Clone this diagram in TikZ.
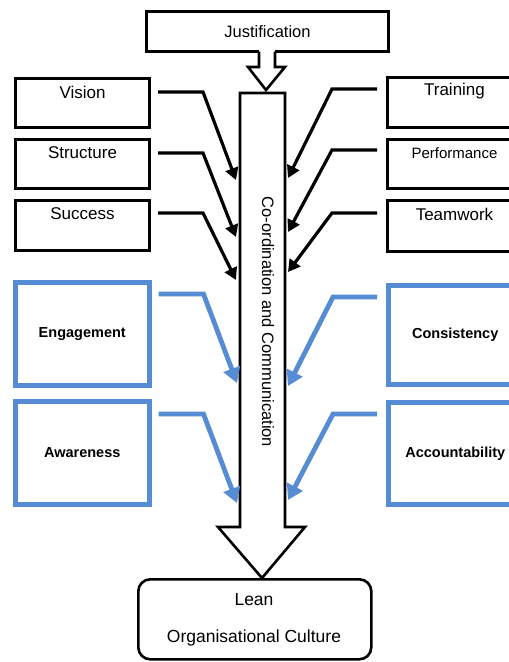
\documentclass[tikz,border=0pt]{standalone}
\usepackage{fontspec}
\setmainfont{Liberation Sans}
\usetikzlibrary{arrows.meta,calc}
\definecolor{boxblue}{RGB}{86,140,211}
\begin{document}
\begin{tikzpicture}[x=1pt,y=-1pt,
  line join=miter,
  plainbox/.style={draw=black,line width=3pt,anchor=north west,inner sep=0pt,
    minimum width=134pt,minimum height=49pt},
  bluebox/.style={draw=boxblue,line width=4.5pt,anchor=north west,inner sep=0pt,
    minimum width=134pt,minimum height=102pt,
    font=\fontsize{14.5}{16}\selectfont\bfseries},
  toptext/.style={label={[anchor=center,yshift=-15pt,inner sep=0pt,
    font=\fontsize{17}{20}\selectfont]north:#1}},
  blk/.style={draw=black,line width=3.2pt,-{Triangle[length=12pt,width=13pt]}},
  blu/.style={draw=boxblue,line width=4.8pt,-{Triangle[length=15pt,width=17pt]}},
  bigarrow/.style={draw=black,line width=2.6pt,fill=white}]
\useasboundingbox (0,0) rectangle (509,662);

% heading box and its small arrow
\node[draw=black,line width=3pt,anchor=north west,minimum width=242pt,minimum height=40pt,
  inner sep=0pt,font=\fontsize{16.5}{20}\selectfont] (just) at (145,10) {Justification};
\fill[white] (259,46) rectangle (275,60);
\draw[bigarrow,fill=none] (259,51.5) -- (259,67) -- (248,67) -- (266,90) -- (285,67) -- (275,67) -- (275,51.5);

% central arrow
\draw[bigarrow] (240,93) -- (285,93) -- (285,527) -- (305,527) -- (262,578) -- (218,527) -- (240,527) -- cycle;
\node[rotate=-90,font=\fontsize{16.5}{20}\selectfont] (coord) at (268,322) {Co-ordination and Communication};

% end result
\node[draw=black,line width=2.6pt,rounded corners=12pt,anchor=north west,inner sep=0pt,
  minimum width=233pt,minimum height=80pt] (lean) at (137,578) {};
\node[font=\fontsize{17.5}{20}\selectfont] (l1) at (254,600) {Lean};
\node[font=\fontsize{17.5}{20}\selectfont] (l2) at (254,638) {Organisational Culture};

% left factors
\node[plainbox,toptext=Vision] (vision) at (14,77) {};
\node[plainbox,toptext=Structure] (structure) at (14,138) {};
\node[plainbox,minimum height=50pt,toptext=Success] (success) at (14,199) {};
\node[bluebox,minimum height=103pt] (engage) at (13,280) {Engagement};
\node[bluebox,minimum height=103pt] (aware) at (13,399) {Awareness};

% right factors
\node[plainbox,minimum height=50pt,toptext=Training] (training) at (386,76) {};
\node[plainbox,label={[anchor=center,yshift=-15pt,inner sep=0pt,
  font=\fontsize{15}{18}\selectfont]north:Performance}] (perf) at (386,138) {};
\node[plainbox,minimum height=51pt,toptext=Teamwork] (team) at (386,199) {};
\node[bluebox,minimum height=99pt] (consist) at (386,283) {Consistency};
\node[bluebox] (account) at (386,400) {Accountability};

% arrow end points on the central arrow
\coordinate (tv) at (236,180);
\coordinate (ts) at (236,237);
\coordinate (tu) at (236,280);
\coordinate (te) at (237,383);
\coordinate (ta) at (237,503);
\coordinate (tt) at (288,178);
\coordinate (tp) at (288,232);
\coordinate (tm) at (288,272);
\coordinate (tc) at (288,386);
\coordinate (tb) at (288,500);

% connectors
\draw[blk] ($(vision.north east)+(7,15)$) -- ++(45,0) -- (tv);
\draw[blk] ($(structure.north east)+(7,15)$) -- ++(45,0) -- (ts);
\draw[blk] ($(success.north east)+(7,14)$) -- ++(45,0) -- (tu);
\draw[blu] ($(engage.north east)+(7,14)$) -- ++(45,0) -- (te);
\draw[blu] ($(aware.north east)+(7,15)$) -- ++(45,0) -- (ta);
\draw[blk] ($(training.north west)+(-9,13)$) -- ++(-45,0) -- (tt);
\draw[blk] ($(perf.north west)+(-9,12)$) -- ++(-45,0) -- (tp);
\draw[blk] ($(team.north west)+(-9,14)$) -- ++(-45,0) -- (tm);
\draw[blu] ($(consist.north west)+(-9,14)$) -- ++(-44,0) -- (tc);
\draw[blu] ($(account.north west)+(-9,14)$) -- ++(-44,0) -- (tb);
\end{tikzpicture}
\end{document}
